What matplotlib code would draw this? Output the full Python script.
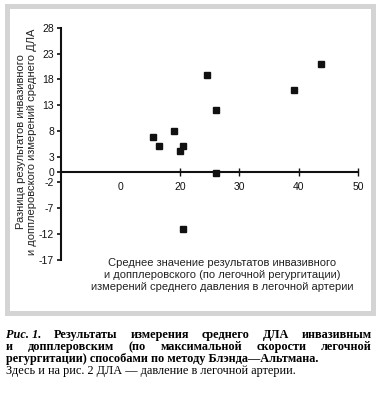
import matplotlib
matplotlib.use("Agg")
import matplotlib.pyplot as plt
from matplotlib.patches import Rectangle

# data
mean_vals = [15.5, 16.5, 19.0, 20.0, 20.5, 24.6, 26.1, 26.1, 39.2, 43.8, 20.5]
diff_vals = [6.8, 5.0, 8.0, 4.1, 5.0, 18.9, 12.0, -0.1, 15.9, 21.0, -11.1]

y_ticks = [28, 23, 18, 13, 8, 3, 0, -2, -7, -12, -17]
x_ticks = [10, 20, 30, 40, 50]
x_tick_labels = ['0', '20', '30', '40', '50']

y_label = "Разница результатов инвазивного\nи допплеровского измерений среднего ДЛА"
x_label = ("Среднее значение результатов инвазивного\n"
           "и допплеровского (по легочной регургитации)\n"
           "измерений среднего давления в легочной артерии")

caption_line1 = ["Результаты", "измерения", "среднего", "ДЛА", "инвазивным"]
caption_line2 = ["и", "допплеровским", "(по", "максимальной", "скорости", "легочной"]
caption_line3 = "регургитации) способами по методу Блэнда—Альтмана."
caption_line4 = "Здесь и на рис. 2 ДЛА — давление в легочной артерии."

W, H = 379, 394
plt.rcParams['font.family'] = ['Liberation Sans', 'DejaVu Sans']
fig = plt.figure(figsize=(W / 100, H / 100), dpi=100)

# pixel helpers (origin top-left)
def fx(px):
    return px / W

def fy(py):
    return 1 - py / H

# light grey frame around the chart
fig.add_artist(Rectangle((fx(7), fy(313)), fx(373.5) - fx(7), fy(5.5) - fy(313),
                         transform=fig.transFigure, fill=False,
                         edgecolor='#d4d4d4', linewidth=3.6))

ax = fig.add_axes([fx(61), fy(259.5), fx(358) - fx(61), fy(28) - fy(259.5)])
ax.plot(mean_vals, diff_vals, 's', color='#111111', markersize=4.6, zorder=3)

ax.set_xlim(0, 50)
ax.set_ylim(-17, 28)
for s in ['top', 'right']:
    ax.spines[s].set_visible(False)
ax.spines['bottom'].set_position(('data', 0))
ax.spines['left'].set_linewidth(1.5)
ax.spines['bottom'].set_linewidth(1.5)
ax.spines['left'].set_color('#111111')
ax.spines['bottom'].set_color('#111111')

ax.set_yticks(y_ticks)
ax.set_yticklabels([str(v) for v in y_ticks])
ax.set_xticks(x_ticks)
ax.set_xticklabels(x_tick_labels)
ax.tick_params(axis='y', direction='out', length=3, width=1.2, pad=2,
               labelsize=7.5, colors='#111111')
ax.tick_params(axis='x', direction='inout', length=6, width=1.0, pad=4,
               labelsize=7.5, colors='#111111')
ax.xaxis.get_major_ticks()[0].tick1line.set_visible(False)

# axis titles
fig.text(fx(26.5), fy(142), y_label, rotation=90, ha='center', va='center',
         fontsize=8, linespacing=1.2, color='#222222')
fig.text(fx(222), fy(274.5), x_label, ha='center', va='center',
         fontsize=8, linespacing=1.25, color='#222222')

# caption below the frame
serif = ['Liberation Serif', 'DejaVu Serif']
fig.canvas.draw()
renderer = fig.canvas.get_renderer()


def justified(words, y, left, right, first=None):
    items = []
    if first is not None:
        items.append(fig.text(0, fy(y), first, family=serif, fontsize=8.8,
                              weight='bold', style='italic', va='center'))
    for w in words:
        items.append(fig.text(0, fy(y), w, family=serif, fontsize=8.8,
                              weight='bold', va='center'))
    widths = [t.get_window_extent(renderer).width for t in items]
    gap = (right - left - sum(widths)) / (len(items) - 1)
    x = left
    for t, w in zip(items, widths):
        t.set_x(fx(x))
        x += w + gap


justified(caption_line1, 335, 6, 372, first="Рис. 1.")
justified(caption_line2, 347, 6, 372)
fig.text(fx(6), fy(359), caption_line3, family=serif, fontsize=8.8,
         weight='bold', va='center')
fig.text(fx(6), fy(371), caption_line4, family=serif, fontsize=8.8,
         va='center')

fig.savefig('out.png', dpi=100)
